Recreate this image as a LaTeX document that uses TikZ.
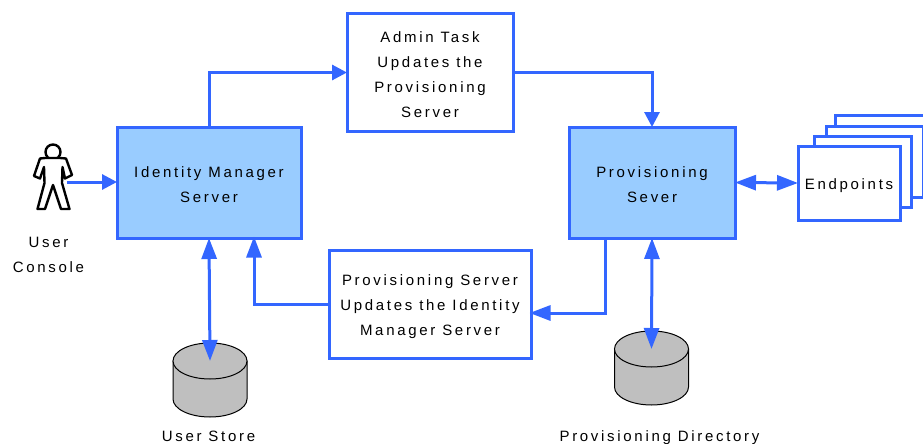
\documentclass[tikz,border=0pt]{standalone}
\usepackage{fontspec}
\setmainfont{Liberation Sans}[LetterSpace=18]
\usetikzlibrary{arrows.meta}
\definecolor{flowblue}{HTML}{3366FF}
\definecolor{serverblue}{HTML}{99CCFF}
\definecolor{dbgray}{HTML}{BFBFBF}
\newcommand{\tdown}{\rule{0pt}{16pt}}
% cylinder: #1 = centre of the top ellipse
\newcommand{\dbdraw}[1]{%
  \draw[black,line width=1pt,fill=dbgray] ([shift={(-37,0)}]#1) -- ++(0,38)
    arc[start angle=180,end angle=0,x radius=37,y radius=18] -- ++(0,-38) -- cycle;
  \draw[black,line width=1pt,fill=dbgray] (#1) ellipse[x radius=37,y radius=18];}

\begin{document}
\begin{tikzpicture}[x=1pt,y=-1pt,font=\fontsize{15}{25}\selectfont,
  box/.style={rectangle,draw=flowblue,line width=3pt,fill=white,align=center,inner sep=0pt},
  server/.style={box,fill=serverblue,minimum width=184pt,minimum height=111pt},
  lbl/.style={align=center,inner sep=0pt},
  longtip/.style={>={Triangle[length=21pt,width=15pt]}}]
\useasboundingbox (0,0) rectangle (923,444);

% boxes
\node[server] (idm) at (209,182.5) {\tdown Identity Manager\\Server};
\node[server,minimum width=166pt] (prov) at (652,182.5) {\tdown Provisioning\\Sever};
\node[box,minimum width=166pt,minimum height=117pt] (admin) at (430,72.5)
  {\tdown Admin Task\\Updates the\\Provisioning\\Server};
\node[box,minimum width=202pt,minimum height=108pt] (update) at (430,304)
  {\tdown Provisioning Server\\Updates the Identity\\Manager Server};

% endpoints stack
\node[box,minimum width=100pt,minimum height=74pt] (epd) at (885,152) {};
\node[box,minimum width=97pt,minimum height=71pt] (epc) at (874.5,161.5) {};
\node[box,minimum width=97pt,minimum height=71pt] (epb) at (862.5,171.5) {};
\node[box,minimum width=102pt,minimum height=74pt] (epa) at (849,183) {\tdown Endpoints};

% stores
\coordinate (storetop) at (210,361);
\coordinate (dirtop) at (651.5,349);
\dbdraw{storetop}
\dbdraw{dirtop}

% user
\node[circle,draw=black,line width=2.4pt,fill=white,minimum size=15pt,inner sep=0pt] (head) at (53,152) {};
\draw[line width=2.4pt,line join=round,fill=white] (45,158) -- (40,158.5) -- (34,176) -- (40,178.5)
  -- (44,167) -- (44.5,183) -- (37.5,209) -- (45,209) -- (53,185) -- (61,209) -- (69.5,209)
  -- (62,183) -- (62.5,167) -- (65,178.5) -- (72,175) -- (66,158.5) -- (60,158) -- cycle;
\coordinate (user) at (67,182);

% labels
\node[lbl] (console) at (48.5,254.5) {User\\Console};
\node[lbl,anchor=base] (storelbl) at (208.5,441) {User Store};
\node[lbl,anchor=base] (dirlbl) at (659.5,441) {Provisioning Directory};

% connectors
\begin{scope}[>={Triangle[length=15pt,width=15pt]},flowblue,line width=3pt,
              shorten >=-1.5pt]
    \draw [->] (user) -- (idm.west |- user);
    \draw [->] (idm.north) |- (admin.west);
    \draw [->] (admin.east) -| (prov.north);
    \draw [<->,longtip,shorten <=-1.5pt] (prov.east) -- (epa.west);
    \draw [<->,longtip,shorten <=-1.5pt,shorten >=0pt] (idm.south) -- (storetop);
    \draw [<->,longtip,shorten <=-1.5pt,shorten >=0pt] (prov.south) -- (dirtop);
    \coordinate (provout) at (605,238);
    \coordinate (updin) at (531,313);
    \draw [->,longtip] (provout) |- (updin);
    \coordinate (idmin) at (254,238);
    \draw [->,longtip] (update.west) -| (idmin);
\end{scope}
\end{tikzpicture}
\end{document}
